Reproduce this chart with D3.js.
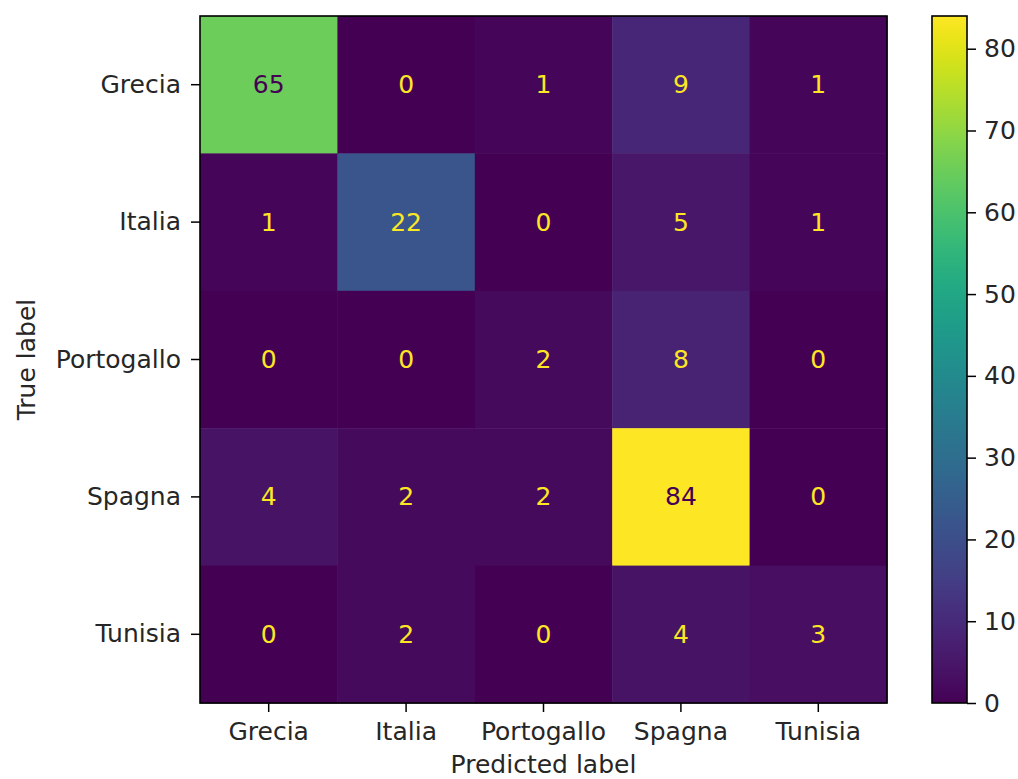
<!DOCTYPE html>
<html>
<head>
<meta charset="utf-8">
<script src="https://cdn.jsdelivr.net/npm/d3@7"></script>
<style>
  html, body { margin: 0; padding: 0; background: #fff; }
  svg { display: block; }
  text { font-family: "DejaVu Sans", sans-serif; fill: #262626; }
</style>
</head>
<body>
<svg id="chart" width="1018" height="779"></svg>
<script>
// Confusion matrix: rows = true label, columns = predicted label
const labels = ["Grecia", "Italia", "Portogallo", "Spagna", "Tunisia"];
const rowGrecia     = [65, 0, 1, 9, 1];
const rowItalia     = [1, 22, 0, 5, 1];
const rowPortogallo = [0, 0, 2, 8, 0];
const rowSpagna     = [4, 2, 2, 84, 0];
const rowTunisia    = [0, 2, 0, 4, 3];
const matrix = [rowGrecia, rowItalia, rowPortogallo, rowSpagna, rowTunisia];
const colorbarTicks = [0, 10, 20, 30, 40, 50, 60, 70, 80];

const svg = d3.select("#chart");
const plot = { left: 200, top: 16, right: 887, bottom: 703 };
const cbar = { left: 932, right: 967 };
const fontSize = 25;
const tickLen = 9;
const tickPad = 10;

const vmin = d3.min(matrix.flat());
const vmax = d3.max(matrix.flat());
const color = d3.scaleSequential(d3.interpolateViridis).domain([vmin, vmax]);

const x = d3.scaleBand().domain(labels).range([plot.left, plot.right]);
const y = d3.scaleBand().domain(labels).range([plot.top, plot.bottom]);

const cells = [];
matrix.forEach((row, i) => row.forEach((v, j) => cells.push({ t: labels[i], p: labels[j], v })));

svg.append("g").selectAll("rect").data(cells).join("rect")
  .attr("x", d => x(d.p))
  .attr("y", d => y(d.t))
  .attr("width", x.bandwidth() + 0.5)
  .attr("height", y.bandwidth() + 0.5)
  .attr("fill", d => color(d.v));

// Value annotations: dark text on bright cells, bright text on dark cells
const threshold = (vmin + vmax) / 2;
svg.append("g").selectAll("text").data(cells).join("text")
  .attr("x", d => x(d.p) + x.bandwidth() / 2)
  .attr("y", d => y(d.t) + y.bandwidth() / 2)
  .attr("text-anchor", "middle")
  .attr("dominant-baseline", "central")
  .style("font-size", fontSize + "px")
  .style("fill", d => d.v < threshold ? color(vmax) : color(vmin))
  .text(d => d.v);

svg.append("rect")
  .attr("x", plot.left).attr("y", plot.top)
  .attr("width", plot.right - plot.left).attr("height", plot.bottom - plot.top)
  .attr("fill", "none").attr("stroke", "#000").attr("stroke-width", 1.6);

function styleAxis(g) {
  g.select(".domain").remove();
  g.selectAll(".tick line").attr("stroke", "#000").attr("stroke-width", 1.5);
  g.selectAll(".tick text").style("font-size", fontSize + "px").style("fill", "#262626")
    .attr("font-family", "DejaVu Sans");
}

svg.append("g")
  .attr("transform", `translate(0,${plot.bottom})`)
  .call(d3.axisBottom(x).tickSize(tickLen).tickPadding(tickPad))
  .call(styleAxis);

svg.append("g")
  .attr("transform", `translate(${plot.left},0)`)
  .call(d3.axisLeft(y).tickSize(tickLen).tickPadding(tickPad))
  .call(styleAxis);

svg.append("text")
  .attr("x", (plot.left + plot.right) / 2).attr("y", 773)
  .attr("text-anchor", "middle")
  .style("font-size", fontSize + "px")
  .text("Predicted label");

svg.append("text")
  .attr("transform", `translate(26,${(plot.top + plot.bottom) / 2}) rotate(-90)`)
  .attr("text-anchor", "middle").attr("dominant-baseline", "central")
  .style("font-size", fontSize + "px")
  .text("True label");

// Colour bar
const cy = d3.scaleLinear().domain([vmin, vmax]).range([plot.bottom, plot.top]);
const defs = svg.append("defs");
const grad = defs.append("linearGradient").attr("id", "cbgrad")
  .attr("x1", 0).attr("y1", 1).attr("x2", 0).attr("y2", 0);
d3.range(0, 1.0001, 0.02).forEach(t => {
  grad.append("stop").attr("offset", t).attr("stop-color", d3.interpolateViridis(t));
});
svg.append("rect")
  .attr("x", cbar.left).attr("y", plot.top)
  .attr("width", cbar.right - cbar.left).attr("height", plot.bottom - plot.top)
  .attr("fill", "url(#cbgrad)")
  .attr("stroke", "#000").attr("stroke-width", 1.6);

svg.append("g")
  .attr("transform", `translate(${cbar.right},0)`)
  .call(d3.axisRight(cy).tickValues(colorbarTicks).tickSize(tickLen).tickPadding(8))
  .call(styleAxis);
</script>
</body>
</html>
